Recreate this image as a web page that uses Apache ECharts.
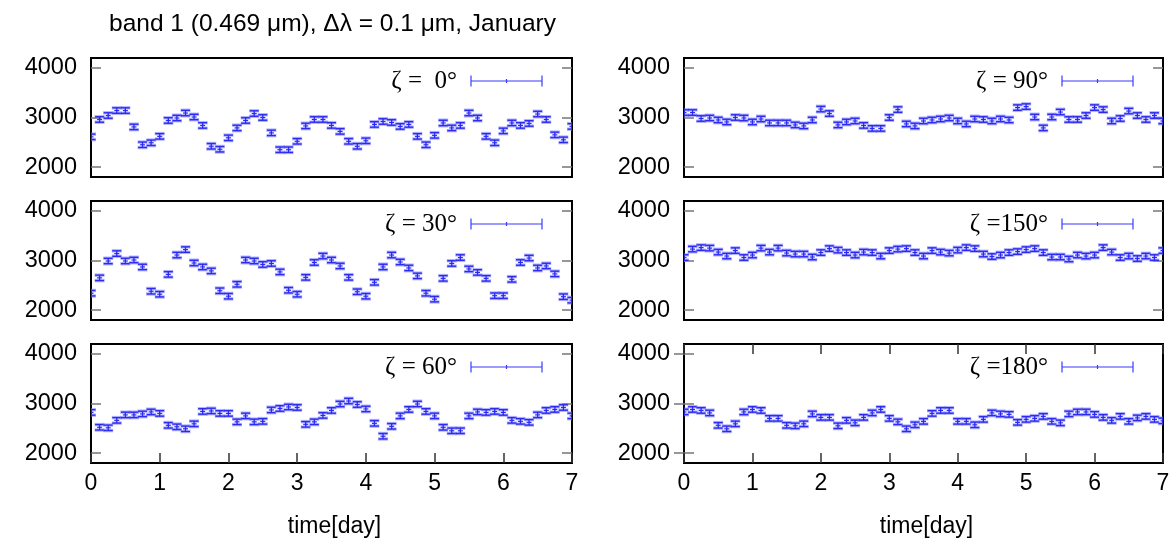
<!DOCTYPE html>
<html><head><meta charset="utf-8">
<script src="https://cdn.jsdelivr.net/npm/echarts@6/dist/echarts.min.js"></script>
<style>html,body{margin:0;padding:0;background:#fff}#c{width:1173px;height:539px}</style>
</head><body><div id="c"></div>
<script>
// time points: every 3 hours over 7 days
const times = [];
for (let i = 0; i <= 56; i++) times.push(i / 8);

const zeta0 = [2610,2960,3040,3140,3140,2810,2450,2490,2620,2940,2990,3090,3010,2840,2420,2360,2590,2790,2940,3080,3000,2690,2350,2350,2520,2830,2960,2960,2840,2720,2520,2420,2530,2860,2920,2900,2820,2860,2620,2450,2640,2890,2790,2840,3090,2990,2620,2490,2730,2890,2840,2880,3070,2960,2650,2550,2820];
const zeta30 = [2340,2650,2990,3140,2990,3010,2870,2380,2320,2720,3110,3220,2950,2870,2790,2390,2280,2520,3010,2990,2920,2940,2770,2400,2320,2660,2960,3090,3010,2890,2660,2370,2280,2560,2870,3110,2970,2850,2690,2340,2220,2640,2940,3060,2830,2760,2640,2290,2290,2620,2960,3050,2850,2890,2730,2270,2200];
const zeta60 = [2820,2520,2510,2660,2770,2770,2790,2830,2800,2560,2530,2490,2590,2840,2850,2800,2800,2630,2750,2630,2640,2870,2900,2930,2920,2580,2630,2760,2860,2990,3050,2980,2890,2600,2340,2540,2750,2880,2990,2840,2750,2520,2450,2450,2750,2830,2820,2840,2820,2660,2640,2620,2770,2860,2880,2920,2750];
const zeta90 = [3100,3100,2980,2990,2950,2910,3000,2990,2910,2970,2890,2890,2890,2850,2830,2950,3170,3080,2850,2910,2930,2840,2780,2780,3000,3160,2870,2830,2930,2950,2970,2990,2930,2870,2970,2960,2930,2970,2950,3200,3220,3010,2790,3010,3110,2960,2960,3040,3200,3160,2930,2980,3130,3040,2960,3040,2930];
const zeta150 = [3060,3230,3260,3250,3170,3090,3200,3060,3110,3250,3170,3250,3150,3130,3130,3070,3160,3240,3210,3160,3110,3170,3160,3090,3200,3230,3240,3160,3090,3200,3170,3150,3210,3260,3240,3130,3080,3110,3160,3180,3220,3240,3160,3070,3070,3030,3110,3090,3110,3260,3170,3060,3090,3040,3090,3060,3200];
const zeta180 = [2830,2880,2860,2810,2560,2490,2590,2830,2880,2860,2700,2700,2560,2550,2590,2790,2720,2720,2550,2660,2610,2720,2810,2880,2700,2630,2490,2570,2640,2800,2860,2860,2640,2640,2570,2680,2810,2790,2780,2620,2680,2700,2740,2640,2610,2790,2830,2830,2780,2720,2660,2740,2640,2710,2740,2680,2650];
const errHalf = 55;

const legendLabels = ['ζ =  0°', 'ζ = 90°', 'ζ = 30°', 'ζ =150°', 'ζ = 60°', 'ζ =180°'];
const panelData = [zeta0, zeta90, zeta30, zeta150, zeta60, zeta180];
const yTicks = [2000, 3000, 4000];
const titleText = 'band 1 (0.469 μm), Δλ = 0.1 μm, January';
const xName = 'time[day]';

const colLeft = [91, 684], colWidth = [481, 479];
const rowTop = [58, 201, 344], rowH = 119;
const sans = 'Liberation Sans, Arial, sans-serif';
const serif = 'Liberation Serif, Times New Roman, serif';
const dark = '#2a2af0', halo = 'rgba(120,120,255,0.55)';

const grids = [], xAxes = [], yAxes = [], series = [], graphics = [];
for (let p = 0; p < 6; p++) {
  const col = p % 2, row = Math.floor(p / 2);
  const bottom = row === 2;
  grids.push({left: colLeft[col], top: rowTop[row], width: colWidth[col], height: rowH,
    show: true, borderColor: '#000', borderWidth: 2, backgroundColor: '#fff', containLabel: false});
  const xi = xAxes.length;
  xAxes.push({type: 'value', gridIndex: p, min: 0, max: 7, interval: 1, position: 'bottom',
    axisLine: {show: false}, splitLine: {show: false},
    axisTick: {show: bottom, inside: true, length: 10, lineStyle: {color: '#333', width: 1.5}},
    axisLabel: {show: bottom, fontFamily: sans, fontSize: 23, color: '#000', margin: 9, formatter: v => String(v)},
    name: bottom ? xName : '', nameLocation: 'middle', nameGap: 52,
    nameTextStyle: {fontFamily: sans, fontSize: 23, color: '#000', padding: [0, 0, 0, 6]}});
  if (bottom && col === 1) {
    xAxes.push({type: 'value', gridIndex: p, min: 0, max: 7, interval: 1, position: 'top',
      axisLine: {show: false}, splitLine: {show: false}, axisLabel: {show: false},
      axisTick: {show: true, inside: true, length: 10, lineStyle: {color: '#333', width: 1.5}}});
  }
  const yi = yAxes.length;
  yAxes.push({type: 'value', gridIndex: p, min: 1800, max: 4200, position: 'left',
    axisLine: {show: false}, splitLine: {show: false},
    axisTick: {show: true, inside: true, length: 10, customValues: yTicks, lineStyle: {color: '#777', width: 1.5}},
    axisLabel: {show: true, customValues: yTicks, fontFamily: sans, fontSize: 23.5, color: '#000', margin: 14, formatter: v => String(v)}});
  yAxes.push({type: 'value', gridIndex: p, min: 1800, max: 4200, position: 'right',
    axisLine: {show: false}, splitLine: {show: false}, axisLabel: {show: false},
    axisTick: {show: true, inside: true, length: 10, customValues: yTicks, lineStyle: {color: '#777', width: 1.5}}});
  const vals = panelData[p];
  series.push({type: 'custom', xAxisIndex: xi, yAxisIndex: yi, clip: true,
    data: vals.map((v, i) => [times[i], v, v - errHalf, v + errHalf]),
    renderItem: function (params, api) {
      const x = api.value(0);
      const c = api.coord([x, api.value(1)]);
      const lo = api.coord([x, api.value(2)]);
      const hi = api.coord([x, api.value(3)]);
      const w = 4.5;
      const seg = (x1, y1, x2, y2, s, lw) => ({type: 'line', shape: {x1, y1, x2, y2}, style: {stroke: s, lineWidth: lw}});
      return {type: 'group', children: [
        seg(c[0] - w - 0.5, lo[1], c[0] + w + 0.5, lo[1], halo, 3.5),
        seg(c[0] - w - 0.5, hi[1], c[0] + w + 0.5, hi[1], halo, 3.5),
        seg(c[0], lo[1], c[0], hi[1], dark, 1.3),
        seg(c[0] - w, lo[1], c[0] + w, lo[1], dark, 1.4),
        seg(c[0] - w, hi[1], c[0] + w, hi[1], dark, 1.4),
        seg(c[0] - 2.5, c[1], c[0] + 2.5, c[1], dark, 1.2)
      ]};
    }
  });
  // legend (key) in the top-right corner
  const right = colLeft[col] + colWidth[col];
  const ly = rowTop[row] + 23;
  const lx1 = right - 101, lx2 = right - 30;
  graphics.push({type: 'text', x: right - 115, y: ly, style: {text: legendLabels[p], fontFamily: serif, fontSize: 25,
    fill: '#000', align: 'right', verticalAlign: 'middle'}});
  const ls = {stroke: '#3b3bff', lineWidth: 1.2};
  graphics.push({type: 'line', shape: {x1: lx1, y1: ly, x2: lx2, y2: ly}, style: ls});
  graphics.push({type: 'line', shape: {x1: lx1, y1: ly - 5.5, x2: lx1, y2: ly + 5.5}, style: ls});
  graphics.push({type: 'line', shape: {x1: lx2, y1: ly - 5.5, x2: lx2, y2: ly + 5.5}, style: ls});
  graphics.push({type: 'line', shape: {x1: (lx1 + lx2) / 2, y1: ly - 2, x2: (lx1 + lx2) / 2, y2: ly + 2}, style: ls});
}

const chart = echarts.init(document.getElementById('c'), null, {renderer: 'canvas'});
chart.setOption({
  animation: false,
  backgroundColor: '#fff',
  title: {text: titleText, left: 104, top: 7, textStyle: {fontFamily: sans, fontSize: 24.5, fontWeight: 'normal', color: '#000'}},
  grid: grids, xAxis: xAxes, yAxis: yAxes, series: series, graphic: graphics
});
</script></body></html>
